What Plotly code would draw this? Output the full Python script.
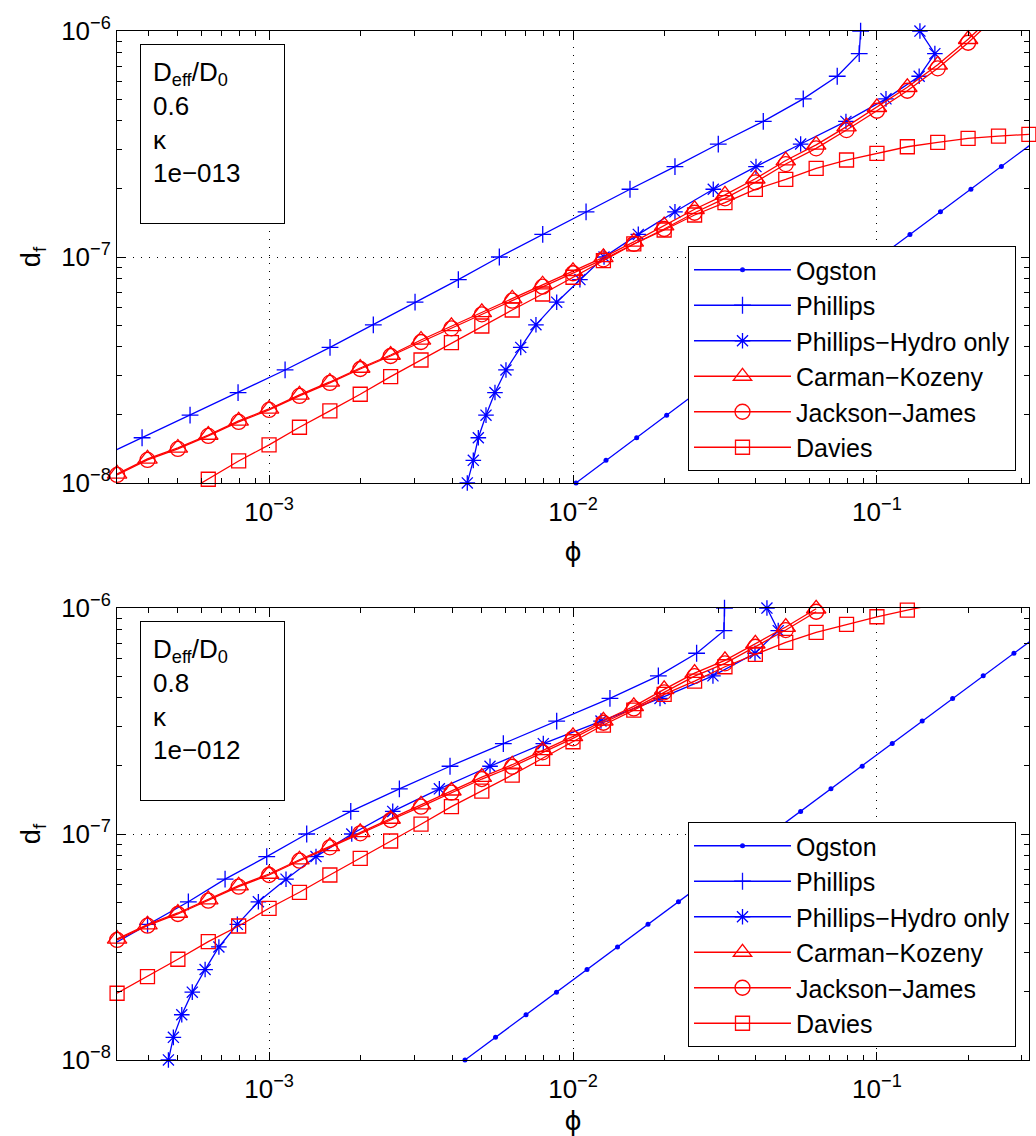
import plotly.graph_objects as go

# ---------------- data ----------------
# volume fraction grid (used by Carman-Kozeny, Jackson-James, Davies)
phi_grid = [3.162e-4, 3.981e-4, 5.012e-4, 6.310e-4, 7.943e-4, 1.000e-3, 1.259e-3, 1.585e-3, 1.995e-3, 2.512e-3,
            3.162e-3, 3.981e-3, 5.012e-3, 6.310e-3, 7.943e-3, 1.000e-2, 1.259e-2, 1.585e-2, 1.995e-2, 2.512e-2,
            3.162e-2, 3.981e-2, 5.012e-2, 6.310e-2, 7.943e-2, 0.1000, 0.1259, 0.1585, 0.1995, 0.2512, 0.3162]
# fibre diameter grid (used by Ogston, Phillips, Phillips-Hydro only)
df_grid = [1.000e-8, 1.259e-8, 1.585e-8, 1.995e-8, 2.512e-8, 3.162e-8, 3.981e-8, 5.012e-8, 6.310e-8, 7.943e-8,
           1.000e-7, 1.259e-7, 1.585e-7, 1.995e-7, 2.512e-7, 3.162e-7, 3.981e-7, 5.012e-7, 6.310e-7, 7.943e-7,
           1.000e-6]

# --- top panel: Deff/D0 = 0.6, kappa = 1e-013 ---
top_ogston_phi = [1.023e-2, 1.284e-2, 1.620e-2, 2.033e-2, 2.557e-2, 3.223e-2, 4.053e-2, 5.096e-2, 6.422e-2,
                  8.068e-2, 0.1019, 0.1284, 0.1618, 0.2038, 0.2567, 0.3223]
top_phillips_phi = [2.656e-4, 3.821e-4, 5.496e-4, 7.907e-4, 1.129e-3, 1.587e-3, 2.203e-3, 3.022e-3, 4.195e-3,
                    5.723e-3, 7.950e-3, 1.104e-2, 1.540e-2, 2.165e-2, 3.006e-2, 4.227e-2, 5.723e-2, 7.402e-2,
                    8.744e-2, 8.837e-2]
top_hydro_phi = [4.490e-3, 4.699e-3, 4.881e-3, 5.173e-3, 5.537e-3, 6.018e-3, 6.730e-3, 7.553e-3, 8.838e-3,
                 1.054e-2, 1.265e-2, 1.640e-2, 2.165e-2, 2.894e-2, 4.000e-2, 5.610e-2, 7.907e-2, 0.1071,
                 0.1377, 0.1551, 0.1385]
top_ck_df = [1.096e-8, 1.277e-8, 1.428e-8, 1.630e-8, 1.881e-8, 2.125e-8, 2.452e-8, 2.798e-8, 3.226e-8, 3.683e-8,
             4.293e-8, 4.935e-8, 5.692e-8, 6.537e-8, 7.540e-8, 8.647e-8, 9.968e-8, 1.166e-7, 1.378e-7, 1.627e-7,
             1.884e-7, 2.219e-7, 2.673e-7, 3.137e-7, 3.778e-7, 4.600e-7, 5.641e-7, 7.087e-7, 9.199e-7, 1.232e-6]
top_jj_df = [1.085e-8, 1.264e-8, 1.414e-8, 1.614e-8, 1.862e-8, 2.104e-8, 2.427e-8, 2.770e-8, 3.193e-8, 3.646e-8,
             4.206e-8, 4.835e-8, 5.577e-8, 6.405e-8, 7.388e-8, 8.472e-8, 9.767e-8, 1.142e-7, 1.330e-7, 1.570e-7,
             1.818e-7, 2.141e-7, 2.579e-7, 3.027e-7, 3.646e-7, 4.439e-7, 5.443e-7, 6.839e-7, 8.877e-7, 1.189e-6]
top_davies_df = [8.67e-9, 1.038e-8, 1.251e-8, 1.473e-8, 1.764e-8, 2.083e-8, 2.469e-8, 2.954e-8, 3.501e-8,
                 4.176e-8, 4.951e-8, 5.828e-8, 6.860e-8, 8.134e-8, 9.630e-8, 1.142e-7, 1.317e-7, 1.534e-7,
                 1.739e-7, 1.993e-7, 2.207e-7, 2.469e-7, 2.687e-7, 2.876e-7, 3.076e-7, 3.217e-7, 3.350e-7,
                 3.430e-7, 3.490e-7]

# --- bottom panel: Deff/D0 = 0.8, kappa = 1e-012 ---
bot_ogston_phi = [4.412e-3, 5.560e-3, 7.006e-3, 8.824e-3, 1.112e-2, 1.401e-2, 1.765e-2, 2.223e-2, 2.802e-2,
                  3.529e-2, 4.446e-2, 5.610e-2, 7.058e-2, 8.945e-2, 0.1123, 0.1409, 0.1774, 0.2237, 0.2823, 0.3556]
bot_phillips_phi = [2.954e-4, 3.983e-4, 5.426e-4, 7.166e-4, 9.826e-4, 1.330e-3, 1.857e-3, 2.684e-3, 3.939e-3,
                    5.899e-3, 8.838e-3, 1.323e-2, 1.909e-2, 2.551e-2, 3.139e-2, 3.151e-2]
bot_hydro_phi = [4.665e-4, 4.844e-4, 5.162e-4, 5.590e-4, 6.160e-4, 6.838e-4, 7.865e-4, 9.222e-4, 1.137e-3,
                 1.427e-3, 1.871e-3, 2.552e-3, 3.633e-3, 5.333e-3, 7.986e-3, 1.236e-2, 1.933e-2, 2.887e-2,
                 3.970e-2, 4.734e-2, 4.346e-2]
bot_ck_df = [3.431e-8, 3.968e-8, 4.471e-8, 5.120e-8, 5.904e-8, 6.652e-8, 7.694e-8, 8.822e-8, 1.017e-7, 1.165e-7,
             1.348e-7, 1.554e-7, 1.787e-7, 2.026e-7, 2.346e-7, 2.706e-7, 3.172e-7, 3.672e-7, 4.368e-7, 5.156e-7,
             5.869e-7, 6.951e-7, 8.242e-7, 9.929e-7]
bot_jj_df = [3.396e-8, 3.928e-8, 4.426e-8, 5.068e-8, 5.844e-8, 6.585e-8, 7.616e-8, 8.733e-8, 1.007e-7, 1.153e-7,
             1.321e-7, 1.523e-7, 1.751e-7, 1.985e-7, 2.299e-7, 2.651e-7, 3.108e-7, 3.598e-7, 4.236e-7, 5.001e-7,
             5.692e-7, 6.742e-7, 7.994e-7, 9.630e-7]
bot_davies_df = [1.973e-8, 2.336e-8, 2.790e-8, 3.338e-8, 3.916e-8, 4.690e-8, 5.521e-8, 6.585e-8, 7.803e-8,
                 9.311e-8, 1.105e-7, 1.321e-7, 1.549e-7, 1.824e-7, 2.163e-7, 2.561e-7, 3.036e-7, 3.537e-7,
                 4.150e-7, 4.753e-7, 5.498e-7, 6.237e-7, 7.050e-7, 7.805e-7, 8.471e-7, 9.151e-7, 9.798e-7,
                 1.042e-6]

x_ticks = [1e-3, 1e-2, 1e-1]
x_ticktext = ["10<sup>\u22123</sup>", "10<sup>\u22122</sup>", "10<sup>\u22121</sup>"]
y_ticks = [1e-8, 1e-7, 1e-6]
y_ticktext = ["10<sup>\u22128</sup>", "10<sup>\u22127</sup>", "10<sup>\u22126</sup>"]

series_names = ["Ogston", "Phillips", "Phillips\u2212Hydro only", "Carman\u2212Kozeny", "Jackson\u2212James", "Davies"]
panel_labels = [("0.6", "1e\u2212013"), ("0.8", "1e\u2212012")]

# ---------------- styling ----------------
BLUE = "#0000ff"
RED = "#ff0000"
FONT = "Liberation Sans, Arial, Helvetica, sans-serif"
XLO, XHI = 10 ** -3.5, 10 ** -0.5
YLO, YHI = 1e-8, 1e-6
EPS = 0.0003  # tiny range padding so edge points keep their markers

styles = [
    dict(color=BLUE, symbol="circle", size=5, open=False),
    dict(color=BLUE, symbol="cross-thin-open", size=12, open=True),
    dict(color=BLUE, symbol="asterisk-open", size=13, open=True),
    dict(color=RED, symbol="triangle-up-open", size=17, open=True),
    dict(color=RED, symbol="circle-open", size=15, open=True),
    dict(color=RED, symbol="square-open", size=14, open=True),
]


def visible_mask(xs, ys):
    return [1 if (XLO * 0.995 <= x <= XHI * 1.005 and YLO * 0.995 <= y <= YHI * 1.005) else 0
            for x, y in zip(xs, ys)]


fig = go.Figure()

panels = [
    dict(xa="x", ya="y", legend="legend",
         data=[(top_ogston_phi, df_grid[:len(top_ogston_phi)]),
               (top_phillips_phi, df_grid[1:1 + len(top_phillips_phi)]),
               (top_hydro_phi, df_grid[:len(top_hydro_phi)]),
               (phi_grid[:len(top_ck_df)], top_ck_df),
               (phi_grid[:len(top_jj_df)], top_jj_df),
               (phi_grid[2:2 + len(top_davies_df)], top_davies_df)]),
    dict(xa="x2", ya="y2", legend="legend2",
         data=[(bot_ogston_phi, df_grid[:len(bot_ogston_phi)]),
               (bot_phillips_phi, df_grid[5:5 + len(bot_phillips_phi)]),
               (bot_hydro_phi, df_grid[:len(bot_hydro_phi)]),
               (phi_grid[:len(bot_ck_df)], bot_ck_df),
               (phi_grid[:len(bot_jj_df)], bot_jj_df),
               (phi_grid[:len(bot_davies_df)], bot_davies_df)]),
]

for p in panels:
    for name, st, (xs, ys) in zip(series_names, styles, p["data"]):
        mk = dict(symbol=st["symbol"], size=st["size"], color=st["color"],
                  opacity=visible_mask(xs, ys))
        if st["open"]:
            mk["line"] = dict(color=st["color"], width=1.3)
        fig.add_trace(go.Scatter(
            x=xs, y=ys, name=name, mode="lines+markers",
            line=dict(color=st["color"], width=1.3),
            marker=mk, cliponaxis=False,
            xaxis=p["xa"], yaxis=p["ya"], legend=p["legend"],
        ))


def minor_vals(lo, hi):
    vals = []
    e = -10
    while 10 ** e <= hi:
        for m in range(2, 10):
            v = m * 10 ** e
            if lo * 1.0001 < v < hi * 0.9999:
                vals.append(v)
        e += 1
    return vals


def axis_common(minor):
    return dict(
        type="log", showline=True, linecolor="black", linewidth=1, mirror="allticks",
        ticks="inside", ticklen=8, tickwidth=1, tickcolor="black",
        showgrid=True, gridcolor="black", griddash="1px,7px", gridwidth=1, zeroline=False,
        tickfont=dict(size=26, color="black", family=FONT), automargin=False,
        minor=dict(tickvals=minor, ticks="inside", ticklen=5, tickwidth=1,
                   tickcolor="black", showgrid=False),
    )


xminor = minor_vals(XLO, XHI)
yminor = minor_vals(YLO, YHI)

W, H = 1036, 1136
ML, MR, MT, MB = 117, 7, 31, 76
plot_h = H - MT - MB


def py(pix):  # pixel row -> paper y
    return (H - MB - pix) / plot_h


def px(pix):  # pixel column -> paper x
    return (pix - ML) / (W - ML - MR)


xa = axis_common(xminor)
ya = axis_common(yminor)

layout = dict(
    width=W, height=H, margin=dict(l=ML, r=MR, t=MT, b=MB),
    paper_bgcolor="white", plot_bgcolor="white",
    font=dict(family=FONT, size=25, color="black"),
    showlegend=True,
)

for i, (xk, yk, dom) in enumerate([("xaxis", "yaxis", [py(483), 1.0]), ("xaxis2", "yaxis2", [0.0, py(608)])]):
    xx = dict(xa, range=[-3.5 - EPS, -0.5 + EPS], tickvals=x_ticks, ticktext=x_ticktext,
              anchor="y" if i == 0 else "y2", domain=[0, 1], ticklabelstandoff=6,
              title=dict(text="\u03d5", font=dict(size=26, family="DejaVu Sans, " + FONT), standoff=16))
    yy = dict(ya, range=[-8 - EPS, -6 + EPS], tickvals=y_ticks, ticktext=y_ticktext,
              anchor="x" if i == 0 else "x2", domain=dom,
              title=dict(text="d<sub>f</sub>", font=dict(size=27, family=FONT), standoff=12))
    layout[xk] = xx
    layout[yk] = yy

leg_common = dict(font=dict(size=25, family=FONT, color="black"), bgcolor="white",
                  bordercolor="black", borderwidth=1, xref="paper", yref="paper",
                  xanchor="right", yanchor="bottom", itemwidth=97, tracegroupgap=0)
layout["legend"] = dict(leg_common, x=px(1016), y=py(471))
layout["legend2"] = dict(leg_common, x=px(1016), y=py(1047))

annotations = []
for (val, kap), top in zip(panel_labels, [44, 621]):
    annotations.append(dict(
        xref="paper", yref="paper", x=px(140), y=py(top), xanchor="left", yanchor="top",
        text="D<sub>eff</sub>/D<sub>0</sub><br>" + val + "<br>\u03ba<br>" + kap,
        showarrow=False, align="left", valign="top", width=119, height=154,
        bordercolor="black", borderwidth=1, borderpad=12, bgcolor="white",
        font=dict(size=26, family=FONT, color="black"),
    ))
layout["annotations"] = annotations

fig.update_layout(**layout)
fig.write_html("out.html")
